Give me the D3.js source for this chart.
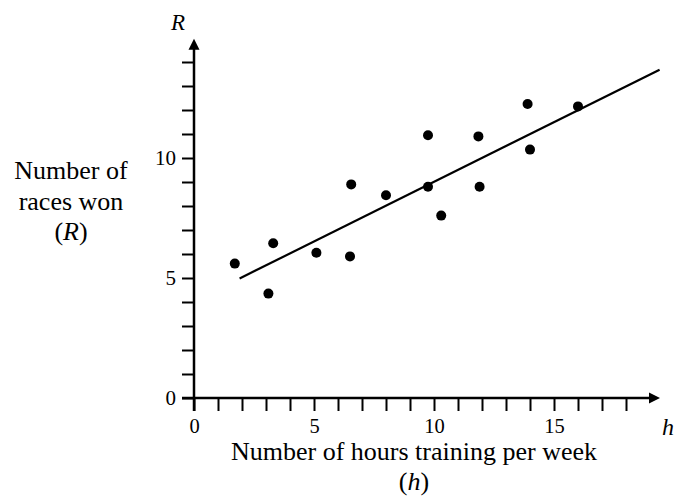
<!DOCTYPE html>
<html>
<head>
<meta charset="utf-8">
<script src="https://cdn.jsdelivr.net/npm/d3@7"></script>
<style>
  html, body { margin: 0; padding: 0; background: #fff; }
  svg { display: block; }
  text { font-family: "Liberation Serif", "Times New Roman", serif; fill: #000; }
</style>
</head>
<body>
<svg id="chart" width="677" height="497"></svg>
<script>
// Data
const hours = [1.7, 3.1, 3.3, 5.1, 6.5, 6.55, 8.0, 9.75, 9.75, 10.3, 11.85, 11.9, 13.9, 14.0, 16.0];
const races = [5.6, 4.35, 6.45, 6.05, 5.9, 8.9, 8.45, 10.95, 8.8, 7.6, 10.9, 8.8, 12.25, 10.35, 12.15];
const lineH = [1.9, 19.4];
const lineR = [4.98, 13.68];
const xTicks = d3.range(0, 19);
const yTicks = d3.range(0, 15);
const xLabels = [0, 5, 10, 15];
const yLabels = [0, 5, 10];

const svg = d3.select("#chart");
const x = d3.scaleLinear().domain([0, 19.5]).range([194, 194 + 19.5 * 24]);
const y = d3.scaleLinear().domain([0, 14.5]).range([398, 398 - 14.5 * 24]);

function dropEmpty(g) {
  g.selectAll("text").filter(function () { return this.textContent === ""; }).remove();
}

// X axis ticks
const xAxis = d3.axisBottom(x).tickValues(xTicks).tickSize(13).tickSizeOuter(0).tickPadding(7)
  .tickFormat(d => xLabels.includes(d) ? d : "");
const gx = svg.append("g").attr("transform", `translate(0,${y(0)})`).call(xAxis);
gx.select(".domain").remove();
gx.selectAll("line").attr("stroke", "#000").attr("stroke-width", 2);
gx.selectAll("text").attr("font-size", 20.5).attr("font-family", "Liberation Serif");
dropEmpty(gx);

// Y axis ticks
const yAxis = d3.axisLeft(y).tickValues(yTicks).tickSize(12).tickSizeOuter(0).tickPadding(6)
  .tickFormat(d => yLabels.includes(d) ? d : "");
const gy = svg.append("g").attr("transform", `translate(${x(0)},0)`).call(yAxis);
gy.select(".domain").remove();
gy.selectAll("line").attr("stroke", "#000").attr("stroke-width", 2);
gy.selectAll("text").attr("font-size", 21).attr("font-family", "Liberation Serif");
dropEmpty(gy);

// Axis lines with arrows
const xEnd = x(19.0), yEnd = y(14.55);
svg.append("line").attr("x1", x(0) - 12).attr("x2", xEnd).attr("y1", y(0)).attr("y2", y(0))
  .attr("stroke", "#000").attr("stroke-width", 2.5);
svg.append("line").attr("x1", x(0)).attr("x2", x(0)).attr("y1", y(0) + 13).attr("y2", yEnd)
  .attr("stroke", "#000").attr("stroke-width", 2.5);
svg.append("path")
  .attr("d", `M${xEnd - 1},${y(0) - 5.5} L${xEnd + 10},${y(0)} L${xEnd - 1},${y(0) + 5.5} Z`)
  .attr("fill", "#000");
svg.append("path")
  .attr("d", `M${x(0) - 5.5},${yEnd + 1} L${x(0)},${yEnd - 10} L${x(0) + 5.5},${yEnd + 1} Z`)
  .attr("fill", "#000");

// Regression line
svg.append("line")
  .attr("x1", x(lineH[0])).attr("y1", y(lineR[0]))
  .attr("x2", x(lineH[1])).attr("y2", y(lineR[1]))
  .attr("stroke", "#000").attr("stroke-width", 2.2);

// Points
svg.append("g").selectAll("circle").data(hours.map((h, i) => [h, races[i]])).join("circle")
  .attr("cx", d => x(d[0])).attr("cy", d => y(d[1])).attr("r", 5).attr("fill", "#000");

// Axis variable labels
svg.append("text").attr("x", 178).attr("y", 30).attr("text-anchor", "middle")
  .attr("font-size", 23).attr("font-style", "italic").text("R");
svg.append("text").attr("x", 668).attr("y", 435).attr("text-anchor", "middle")
  .attr("font-size", 24).attr("font-style", "italic").text("h");

// Y title
const yt = svg.append("text").attr("text-anchor", "middle").attr("font-size", 26);
yt.append("tspan").attr("x", 71).attr("y", 179).text("Number of");
yt.append("tspan").attr("x", 71).attr("y", 210).text("races won");
const t3 = yt.append("tspan").attr("x", 71).attr("y", 240);
t3.append("tspan").text("(");
t3.append("tspan").attr("font-style", "italic").text("R");
t3.append("tspan").text(")");

// X title
svg.append("text").attr("x", 414).attr("y", 460).attr("text-anchor", "middle").attr("font-size", 26)
  .text("Number of hours training per week");
const xt = svg.append("text").attr("x", 414).attr("y", 490).attr("text-anchor", "middle").attr("font-size", 26);
xt.append("tspan").text("(");
xt.append("tspan").attr("font-style", "italic").text("h");
xt.append("tspan").text(")");
</script>
</body>
</html>
